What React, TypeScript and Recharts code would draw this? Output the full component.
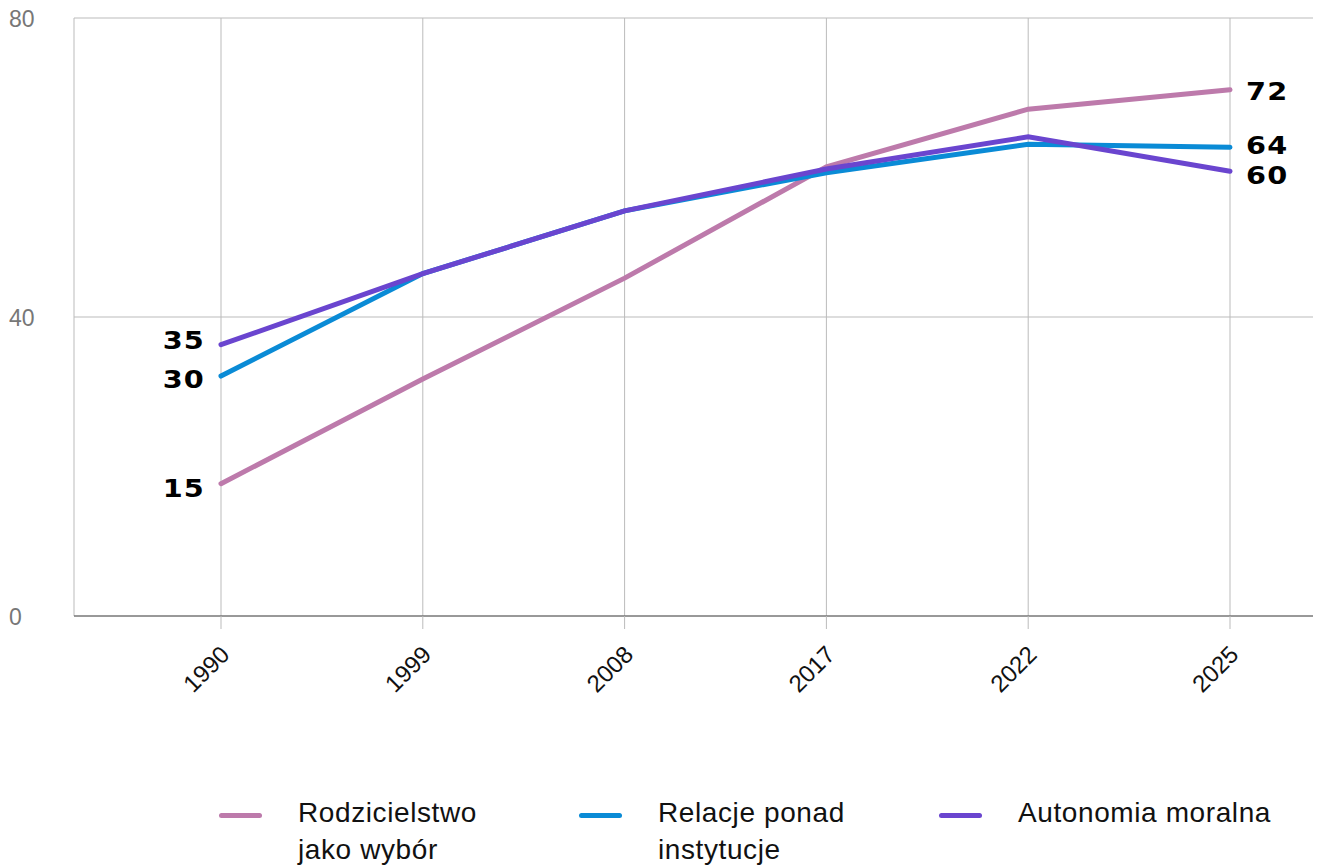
import { CartesianGrid, LabelList, Line, LineChart, XAxis, YAxis } from 'recharts'

const years = ['1990', '1999', '2008', '2017', '2022', '2025']
const rodzicielstwo = [17.7, 31.7, 45.2, 60.1, 67.8, 70.4]
const relacje = [32.1, 45.8, 54.2, 59.3, 63.1, 62.7]
const autonomia = [36.3, 45.8, 54.2, 59.8, 64.1, 59.5]

// labels printed at both ends of each line
const startLabels = { rodzicielstwo: '15', relacje: '30', autonomia: '35' }
const endLabels = { rodzicielstwo: '72', relacje: '64', autonomia: '60' }

const yTicks = [0, 40, 80]

const data = years.map((year, i) => ({
  year,
  rodzicielstwo: rodzicielstwo[i],
  relacje: relacje[i],
  autonomia: autonomia[i]
}))

const series = [
  { key: 'rodzicielstwo', color: '#bd7aab', name: ['Rodzicielstwo', 'jako wybór'], dyStart: 4, dyEnd: 1 },
  { key: 'relacje', color: '#0a8bd6', name: ['Relacje ponad', 'instytucje'], dyStart: 3, dyEnd: -2 },
  { key: 'autonomia', color: '#6a45cf', name: ['Autonomia moralna'], dyStart: -4, dyEnd: 4 }
] as const

const labelStyle = {
  fontFamily: 'DejaVu Sans',
  fontWeight: 700,
  fontSize: 25,
  letterSpacing: 1,
  fill: '#000'
}

function endLabel(key: keyof typeof startLabels, dyStart: number, dyEnd: number) {
  return (props: any) => {
    const { x, y, index } = props
    if (index === 0) {
      return (
        <g transform={`translate(${x - 16},${y + dyStart}) scale(1.15,1)`}>
          <text textAnchor="end" dominantBaseline="central" style={labelStyle}>
            {startLabels[key]}
          </text>
        </g>
      )
    }
    if (index === years.length - 1) {
      return (
        <g transform={`translate(${x + 16},${y + dyEnd}) scale(1.15,1)`}>
          <text textAnchor="start" dominantBaseline="central" style={labelStyle}>
            {endLabels[key]}
          </text>
        </g>
      )
    }
    return null
  }
}

function YearTick(props: any) {
  const { x, y, payload } = props
  return (
    <g transform={`translate(${x + 4},${y + 19})`}>
      <text
        textAnchor="end"
        transform="rotate(-45)"
        dominantBaseline="central"
        style={{ fontFamily: 'Liberation Sans', fontSize: 24, fill: '#111' }}
      >
        {payload.value}
      </text>
    </g>
  )
}

function ValueTick(props: any) {
  const { y, payload } = props
  return (
    <text x={1} y={y + 1} textAnchor="start" dominantBaseline="central" style={{ fontFamily: 'Liberation Sans', fontSize: 23, fill: '#777' }}>
      {payload.value}
    </text>
  )
}

export default function App() {
  return (
    <div style={{ position: 'relative', width: 1313, height: 867, marginTop: -8 }}>
      <LineChart width={1313} height={768} data={data} margin={{ top: 18, right: 0, bottom: 0, left: 0 }}>
        <CartesianGrid stroke="#bbb" />
        <XAxis
          dataKey="year"
          padding={{ left: 147, right: 91 }}
          height={152}
          stroke="#555"
          tickLine={{ stroke: '#bbb' }}
          tickSize={13}
          tick={<YearTick />}
          interval={0}
        />
        <YAxis width={66} domain={[0, 80]} ticks={yTicks} axisLine={false} tickLine={false} tick={<ValueTick />} />
        {series.map((s) => (
          <Line
            key={s.key}
            dataKey={s.key}
            stroke={s.color}
            strokeWidth={5}
            strokeLinecap="round"
            dot={false}
            activeDot={false}
            isAnimationActive={false}
          >
            <LabelList dataKey={s.key} content={endLabel(s.key, s.dyStart, s.dyEnd)} />
          </Line>
        ))}
      </LineChart>
      <div style={{ position: 'absolute', top: 801, left: 0, width: 1313, fontFamily: 'Liberation Sans', fontSize: 28, letterSpacing: 0.6, color: '#111' }}>
        {series.map((s, i) => (
          <div key={s.key} style={{ position: 'absolute', left: 211 + i * 360, top: 0, display: 'flex', alignItems: 'flex-start' }}>
            <div style={{ width: 43, height: 5, borderRadius: 3, background: s.color, marginTop: 12 }} />
            <div style={{ marginLeft: 36, lineHeight: '37px', marginTop: -7 }}>
              {s.name.map((line) => (
                <div key={line}>{line}</div>
              ))}
            </div>
          </div>
        ))}
      </div>
    </div>
  )
}
